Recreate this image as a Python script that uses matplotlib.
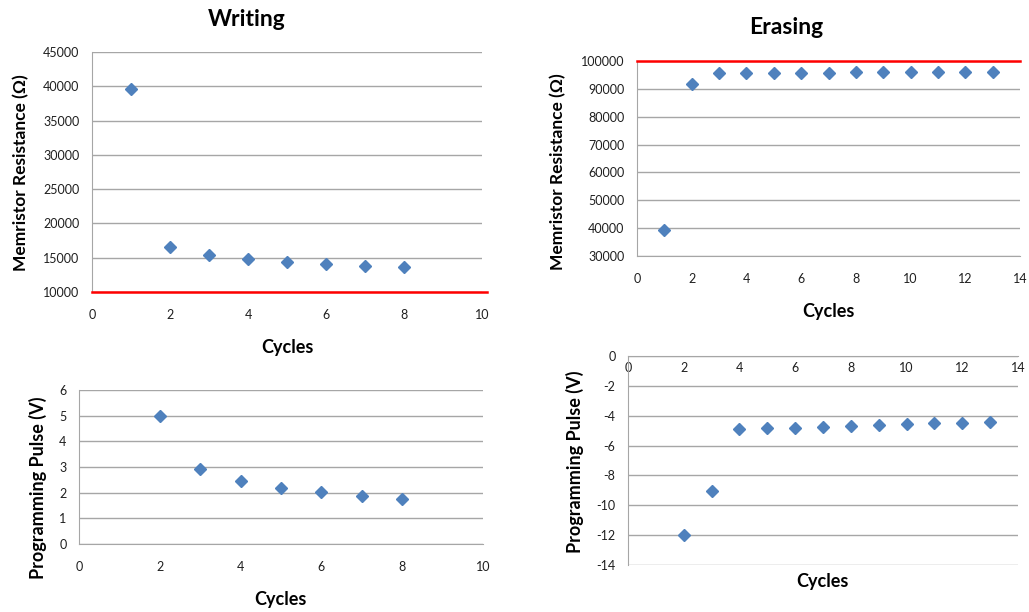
import matplotlib.pyplot as plt

plt.rcParams['font.family'] = ['Lato', 'DejaVu Sans']
plt.rcParams['axes.unicode_minus'] = False

# writing data
w_cyc = [1, 2, 3, 4, 5, 6, 7, 8]
w_res = [39640, 16530, 15410, 14830, 14390, 14100, 13800, 13610]
w_pulse_cyc = [2, 3, 4, 5, 6, 7, 8]
w_pulse = [5.0, 2.94, 2.45, 2.19, 2.01, 1.87, 1.77]
w_target = 10000

# erasing data
e_cyc = [1, 2, 3, 4, 5, 6, 7, 8, 9, 10, 11, 12, 13]
e_res = [39470, 91850, 95560, 95560, 95680, 95680, 95800, 95920, 95920, 96040, 96040, 96040, 96160]
e_pulse_cyc = [2, 3, 4, 5, 6, 7, 8, 9, 10, 11, 12, 13]
e_pulse = [-12.0, -9.07, -4.9, -4.84, -4.79, -4.73, -4.68, -4.61, -4.55, -4.5, -4.46, -4.41]
e_target = 100000

blue = '#4f81bd'
grid = '#a6a6a6'
txt = '#1f1f1f'

fig = plt.figure(figsize=(10.29, 6.12), dpi=100)

def px(l, r, t, b):
    return [l/1029, 1-b/612, (r-l)/1029, (b-t)/612]

def style(ax, xlim, ylim, xstep, ystep):
    ax.set_xlim(*xlim)
    ax.set_ylim(*ylim)
    ax.set_xticks(range(xlim[0], xlim[1]+1, xstep))
    ax.set_yticks(range(ylim[0], ylim[1]+1, ystep))
    ax.grid(axis='y', color=grid, lw=1)
    ax.set_axisbelow(True)
    for s in ['top', 'right']:
        ax.spines[s].set_visible(False)
    ax.spines['left'].set_color(grid)
    ax.spines['bottom'].set_color(grid)
    ax.tick_params(length=0, labelsize=9, labelcolor=txt)
    ax.tick_params(axis='y', pad=9)
    ax.tick_params(axis='x', pad=12)

ax1 = fig.add_axes(px(92, 482, 52, 292))
style(ax1, (0, 10), (10000, 45000), 2, 5000)
ax1.plot(w_cyc, w_res, 'D', color=blue, ms=6)
ax1.axhline(w_target, color='red', lw=1.8, xmax=1.013, clip_on=False, zorder=5)

ax2 = fig.add_axes(px(637, 1020, 61, 256))
style(ax2, (0, 14), (30000, 100000), 2, 10000)
ax2.plot(e_cyc, e_res, 'D', color=blue, ms=6)
ax2.axhline(e_target, color='red', lw=1.8, clip_on=False, zorder=5)

ax3 = fig.add_axes(px(79, 483, 390, 544))
style(ax3, (0, 10), (0, 6), 2, 1)
ax3.plot(w_pulse_cyc, w_pulse, 'D', color=blue, ms=6)

ax4 = fig.add_axes(px(628, 1018, 356, 565))
style(ax4, (0, 14), (-14, 0), 2, 2)
ax4.spines['bottom'].set_position(('data', 0))
ax4.tick_params(axis='x', pad=4)
ax4.plot(e_pulse_cyc, e_pulse, 'D', color=blue, ms=6)

def ftext(x, y, s, size, rot=0):
    fig.text(x/1029, 1-y/612, s, ha='center', va='center', fontsize=size,
             fontweight='bold', rotation=rot, color='black')

ftext(247, 20, 'Writing', 16.5)
ftext(786, 28, 'Erasing', 16.5)
ftext(21, 173, 'Memristor Resistance (\u03a9)', 12.5, 90)
ftext(558, 172, 'Memristor Resistance (\u03a9)', 12.5, 90)
ftext(38, 488, 'Programming Pulse (V)', 13, 90)
ftext(575, 462, 'Programming Pulse (V)', 13, 90)
ftext(287, 348, 'Cycles', 13)
ftext(828, 312, 'Cycles', 13)
ftext(280, 600, 'Cycles', 13)
ftext(822, 581, 'Cycles', 13)

fig.savefig('out.png', dpi=100)
